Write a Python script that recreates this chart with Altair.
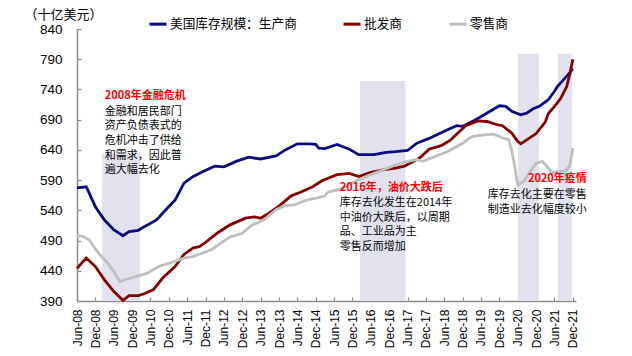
import altair as alt
import pandas as pd

# ---------------- data ----------------
names = ["美国库存规模：生产商", "批发商", "零售商"]
colors = ["#0a0a84", "#850000", "#bfbfbf"]

prod_dates = ["2008-06", "2008-09", "2008-12", "2009-03", "2009-06", "2009-09", "2009-11", "2010-02",
              "2010-04", "2010-08", "2010-11", "2011-02", "2011-05", "2011-08", "2011-11", "2012-03",
              "2012-06", "2012-10", "2013-02", "2013-06", "2013-11", "2014-02", "2014-06", "2014-10",
              "2014-12", "2015-01", "2015-03", "2015-07", "2015-11", "2016-02", "2016-07", "2016-11",
              "2017-02", "2017-06", "2017-09", "2018-01", "2018-06", "2018-10", "2018-12", "2019-04",
              "2019-08", "2019-12", "2020-02", "2020-04", "2020-07", "2020-09", "2020-11", "2021-01",
              "2021-04", "2021-06", "2021-07", "2021-10", "2021-12"]
prod_values = [577, 579, 546, 524, 508, 498, 505, 507, 513, 524, 541, 557, 585, 596, 604, 613,
               612, 621, 628, 625, 630, 640, 650, 650, 649, 643, 642, 649, 641, 632, 632, 636,
               637, 639, 651, 659, 671, 680, 679, 689, 701, 713, 712, 704, 698, 701, 708, 712,
               723, 737, 745, 762, 774]

whole_dates = ["2008-06", "2008-09", "2008-12", "2009-03", "2009-06", "2009-09", "2009-11", "2010-02",
               "2010-04", "2010-07", "2010-10", "2011-02", "2011-05", "2011-08", "2011-10", "2011-12",
               "2012-04", "2012-08", "2013-01", "2013-04", "2013-06", "2013-08", "2013-12", "2014-04",
               "2014-07", "2014-11", "2015-02", "2015-07", "2015-11", "2016-02", "2016-06", "2016-10",
               "2017-02", "2017-05", "2017-08", "2017-10", "2018-01", "2018-05", "2018-08", "2018-10",
               "2019-01", "2019-05", "2019-08", "2019-11", "2020-01", "2020-04", "2020-06", "2020-07",
               "2020-09", "2020-12", "2021-03", "2021-04", "2021-06", "2021-08", "2021-10", "2021-11",
               "2021-12"]
whole_values = [444, 461, 447, 425, 406, 391, 399, 399, 402, 409, 428, 447, 467, 478, 480, 487,
                503, 516, 527, 529, 527, 533, 547, 564, 570, 579, 589, 599, 601, 596, 603, 607,
                610, 613, 621, 627, 641, 647, 656, 666, 680, 688, 687, 682, 680, 668, 654, 650,
                657, 667, 686, 700, 712, 725, 745, 766, 790]

retail_dates = ["2008-06", "2008-08", "2008-10", "2009-01", "2009-04", "2009-06", "2009-08", "2009-10",
                "2010-01", "2010-05", "2010-09", "2011-01", "2011-05", "2011-08", "2011-12", "2012-02",
                "2012-05", "2012-08", "2012-12", "2013-03", "2013-07", "2013-11", "2014-02", "2014-05",
                "2014-09", "2014-12", "2015-03", "2015-04", "2015-08", "2016-01", "2016-05", "2016-10",
                "2017-02", "2017-06", "2017-09", "2017-11", "2018-03", "2018-07", "2018-12", "2019-03",
                "2019-07", "2019-10", "2020-01", "2020-03", "2020-04", "2020-05", "2020-06", "2020-08",
                "2020-10", "2020-12", "2021-02", "2021-04", "2021-05", "2021-08", "2021-10", "2021-11",
                "2021-12"]
retail_values = [498, 497, 491, 469, 453, 439, 422, 426, 430, 436, 448, 454, 461, 464, 471, 475,
                 486, 496, 502, 515, 524, 541, 548, 549, 557, 560, 564, 570, 575, 588, 597, 607,
                 615, 621, 624, 621, 629, 637, 651, 662, 665, 666, 660, 657, 640, 613, 582, 588,
                 604, 618, 621, 610, 603, 604, 606, 615, 643]

# destocking periods (shaded)
shade_start = ["2009-02-05", "2016-02-14", "2020-06-02", "2021-07-04"]
shade_end = ["2010-02-17", "2017-05-12", "2020-12-28", "2021-11-21"]
shade_top = [635, 754, 799, 799]

# annotations
ann1_title = "2008年金融危机"
ann1_lines = ["金融和居民部门", "资产负债表式的", "危机冲击了供给", "和需求，因此普", "遍大幅去化"]
ann2_title = "2016年，油价大跌后"
ann2_lines = ["库存去化发生在2014年", "中油价大跌后，以周期", "品、工业品为主", "零售反而增加"]
ann3_title = "2020年疫情"
ann3_lines = ["库存去化主要在零售", "制造业去化幅度较小"]

tick_years = list(range(2008, 2022))
y_ticks = [390, 440, 490, 540, 590, 640, 690, 740, 790, 840]

# ---------------- tables ----------------
rows = []
for name, ds, vs in zip(names, [prod_dates, whole_dates, retail_dates],
                        [prod_values, whole_values, retail_values]):
    for d, v in zip(ds, vs):
        rows.append({"date": d + "-01T00:00:00", "value": v, "series": name})
df = pd.DataFrame(rows)

shade_df = pd.DataFrame({"start": [s + "T00:00:00" for s in shade_start],
                         "end": [s + "T00:00:00" for s in shade_end],
                         "top": shade_top, "base": [390] * len(shade_top)})

# anchors (date, value) for each annotation block, in data space
ann_specs = [
    # title, lines, anchor date, title value, body-top value, line height, align
    (ann1_title, ann1_lines, "2009-03-05T00:00:00", 729.6, 712.9, 14.6, "left"),
    (ann2_title, ann2_lines, "2015-07-28T00:00:00", 577.4, 561.9, 14.7, "left"),
    (ann3_title, ann3_lines, "2022-04-19T00:00:00", 592.0, 575.0, 14.6, "right"),
]

# ---------------- scales / axes ----------------
x_scale = alt.Scale(domain=[alt.DateTime(year=2008, month=6, date=1),
                            alt.DateTime(year=2022, month=1, date=1)])
y_scale = alt.Scale(domain=[390, 840], nice=False, zero=False)
x_tick_values = [alt.DateTime(year=y, month=m, date=1)
                 for y in tick_years for m in (6, 12)]

AX_GRAY = "#8c8c8c"
LATIN = "Liberation Sans"
CJK = "Noto Sans CJK SC"

x_axis_main = alt.Axis(orient="bottom", values=x_tick_values, format="%b-%y", labelAngle=-90,
                       ticks=False, tickSize=0, labelPadding=8, labelFontSize=12, labelFont=LATIN,
                       labelColor="#000000", labelOverlap=False, labelFlush=False, domainColor=AX_GRAY,
                       domainWidth=1.5, grid=False, title=None)
y_axis_main = alt.Axis(orient="left", values=y_ticks, ticks=False, tickSize=0, labelPadding=15,
                       labelFontSize=13.5, labelFont=LATIN, labelColor="#000000", domainColor=AX_GRAY,
                       domainWidth=1.5, grid=False, title="（十亿美元）", titleAngle=0, titleX=-53,
                       titleY=-15, titleAlign="left", titleBaseline="middle", titleFont=CJK,
                       titleFontSize=13, titleFontWeight="normal", titleColor="#000000")
x_axis_ticks = alt.Axis(orient="bottom", values=x_tick_values, offset=-4, domain=False, labels=False,
                        ticks=True, tickSize=4, tickColor=AX_GRAY, tickWidth=1.2, grid=False, title=None)
y_axis_ticks = alt.Axis(orient="left", values=y_ticks, offset=-4, domain=False, labels=False,
                        ticks=True, tickSize=4, tickColor=AX_GRAY, tickWidth=1.2, grid=False, title=None)

# ---------------- layers ----------------
shade = alt.Chart(shade_df).mark_rect(color="#e2e2ef").encode(
    x=alt.X("start:T", scale=x_scale, axis=x_axis_ticks),
    x2="end:T",
    y=alt.Y("base:Q", scale=y_scale, axis=y_axis_ticks),
    y2="top:Q",
)

lines = alt.Chart(df).mark_line(strokeWidth=2.8, interpolate="linear").encode(
    x=alt.X("date:T", scale=x_scale, axis=x_axis_main),
    y=alt.Y("value:Q", scale=y_scale, axis=y_axis_main),
    color=alt.Color("series:N", sort=names,
                    scale=alt.Scale(domain=names, range=colors),
                    legend=alt.Legend(orient="none", legendX=71, legendY=-15, direction="horizontal",
                                      title=None, symbolType="stroke", symbolSize=289,
                                      symbolStrokeWidth=3, labelFont=CJK, labelFontSize=12.7,
                                      labelColor="#000000", labelOffset=2, columnPadding=40,
                                      padding=0)),
    order=alt.Order("date:T"),
)

texts = []
for title, body, anchor, tval, bval, lh, align in ann_specs:
    tdf = pd.DataFrame([{"date": anchor, "value": tval, "text": title}])
    bdf = pd.DataFrame([{"date": anchor, "value": bval, "text": "\n".join(body)}])
    texts.append(alt.Chart(tdf).mark_text(
        align=align, baseline="middle", font=CJK, fontSize=11, fontWeight="bold", color="#ff0000"
    ).encode(
        x=alt.X("date:T", scale=x_scale, axis=None),
        y=alt.Y("value:Q", scale=y_scale, axis=None),
        text="text:N",
    ))
    texts.append(alt.Chart(bdf).mark_text(
        align=align, baseline="top", font=CJK, fontSize=11, color="#000000",
        lineBreak="\n", lineHeight=lh
    ).encode(
        x=alt.X("date:T", scale=x_scale, axis=None),
        y=alt.Y("value:Q", scale=y_scale, axis=None),
        text="text:N",
    ))

chart = alt.layer(shade, lines, *texts).resolve_axis(
    x="independent", y="independent"
).properties(
    width=499, height=272,
    padding={"left": 77, "top": 29, "right": 56, "bottom": 55},
    autosize=alt.AutoSizeParams(type="none"),
    background="#ffffff",
).configure_view(stroke=None)

chart.save("out.html", embed_options={"renderer": "svg", "actions": False})
